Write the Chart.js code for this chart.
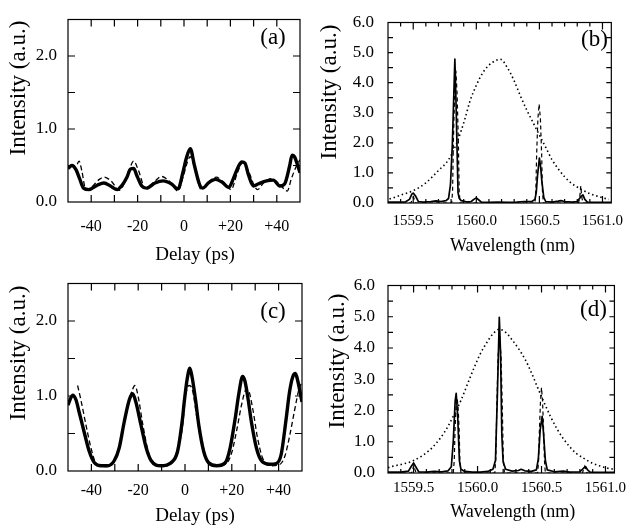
<!DOCTYPE html>
<html><head><meta charset="utf-8">
<script src="https://cdn.jsdelivr.net/npm/chart.js@4.4.0/dist/chart.umd.min.js"></script>
<style>
html,body{margin:0;padding:0;background:#fff;}
body{width:634px;height:528px;position:relative;overflow:hidden;}
canvas{position:absolute;}
</style></head><body>
<canvas id="ca" width="317" height="264" style="left:0;top:0"></canvas>
<canvas id="cb" width="317" height="264" style="left:317px;top:0"></canvas>
<canvas id="cc" width="317" height="264" style="left:0;top:264px"></canvas>
<canvas id="cd" width="317" height="264" style="left:317px;top:264px"></canvas>
<script>
// ---------- tick values and labels ----------
const delayTicks = [-50,-40,-30,-20,-10,0,10,20,30,40,50];
const delayLabelValues = [-40,-20,0,20,40];
const delayLabelTexts = ['-40','-20','0','+20','+40'];
const timeIntensityTicks = [0,0.5,1,1.5,2,2.5];
const timeIntensityLabelValues = [0,1,2];
const timeIntensityLabelTexts = ['0.0','1.0','2.0'];
const wlTicks = [1559.3,1559.4,1559.5,1559.6,1559.7,1559.8,1559.9,1560.0,1560.1,1560.2,1560.3,1560.4,1560.5,1560.6,1560.7,1560.8,1560.9,1561.0];
const wlLabelValues = [1559.5,1560.0,1560.5,1561.0];
const wlLabelTexts = ['1559.5','1560.0','1560.5','1561.0'];
const specIntensityTicks = [0,0.5,1,1.5,2,2.5,3,3.5,4,4.5,5,5.5,6];
const specIntensityLabelValues = [0,1,2,3,4,5,6];
const specIntensityLabelTexts = ['0.0','1.0','2.0','3.0','4.0','5.0','6.0'];

// ---------- (a) autocorrelation ----------
const aMeasDelay = [-50,-48.3,-46.5,-45,-43.3,-41,-37.4,-34.5,-31.7,-28.8,-26.7,-24.6,-23.1,-21.7,-20.3,-18.2,-16.1,-12.5,-9,-5.5,-2.6,-0.5,1,2.7,4.5,6.6,8,10.8,13.6,16.5,19.3,21.4,23.5,24.9,26.3,27.8,29.9,32.1,35.6,38.5,41.3,43.4,45.5,46.6,47.6,49.1,50];
const aMeasI = [0.46,0.50,0.44,0.32,0.19,0.17,0.23,0.26,0.22,0.17,0.23,0.34,0.45,0.46,0.36,0.22,0.19,0.26,0.29,0.25,0.18,0.40,0.60,0.73,0.50,0.25,0.19,0.27,0.31,0.27,0.20,0.33,0.49,0.55,0.53,0.37,0.22,0.25,0.29,0.30,0.22,0.25,0.49,0.64,0.62,0.49,0.40];
const aSimDelay = [-46,-45.2,-44,-42.3,-40.5,-38.7,-36.5,-34.5,-31.5,-27.8,-25.7,-23.5,-21.7,-19.6,-16.7,-13,-9.7,-6.5,-2.6,-0.5,1.5,2.7,4.5,7.4,10.5,13.9,17,20.3,23,25.3,27.5,31.7,34.5,37.4,41,44.5,46.3,48.4,50];
const aSimI = [0.52,0.56,0.42,0.17,0.19,0.24,0.31,0.34,0.29,0.16,0.26,0.45,0.56,0.43,0.19,0.27,0.35,0.29,0.15,0.33,0.55,0.62,0.48,0.17,0.27,0.34,0.27,0.17,0.40,0.54,0.44,0.17,0.27,0.32,0.25,0.15,0.32,0.49,0.58];

// ---------- (c) autocorrelation ----------
const cMeasDelay = [-50,-48,-46.6,-45.2,-43.1,-40.9,-38.7,-35.9,-33.1,-30.2,-28.1,-26,-23.8,-22.4,-21,-18.8,-16.6,-14.5,-10.2,-6,-3.2,-1.1,-0.4,1,2.1,3.1,4.5,5.9,8,10.1,13.6,17.2,19.3,21.4,23,24.6,25.6,27,28.4,30.5,32.6,36.2,39,41.1,43.2,44.7,46.1,47.2,48.2,50];
const cMeasI = [0.88,1.01,0.95,0.78,0.52,0.26,0.11,0.07,0.07,0.14,0.31,0.65,0.95,1.03,0.92,0.61,0.31,0.14,0.07,0.11,0.26,0.69,0.90,1.24,1.37,1.24,0.95,0.61,0.26,0.11,0.07,0.11,0.31,0.69,1.03,1.26,1.2,0.95,0.65,0.31,0.14,0.09,0.1,0.22,0.69,1.06,1.26,1.3,1.2,0.92];
const cSimDelay = [-45.9,-44.5,-42.3,-40.2,-38.1,-33.8,-31,-28.8,-26.7,-24.6,-22.4,-21.4,-20,-18.2,-16.1,-14,-9.7,-5.5,-3.4,-1.2,0.3,1.7,3.1,5.2,7.4,9.5,13.7,18,20.1,22.2,24.3,26.2,27.2,29,31,33.2,37,40.6,42.7,44.8,46.9,48.7,49.6];
const cSimI = [1.14,0.95,0.61,0.31,0.11,0.06,0.09,0.22,0.52,0.86,1.09,1.14,0.99,0.65,0.31,0.11,0.06,0.11,0.26,0.56,1.01,1.14,1.09,0.69,0.35,0.14,0.07,0.11,0.26,0.56,0.9,1.09,1.07,0.82,0.44,0.17,0.07,0.09,0.2,0.48,0.82,1.09,1.16];

// ---------- (b) spectrum ----------
const bMeasWl = [1559.30,1559.38,1559.44,1559.47,1559.49,1559.50,1559.52,1559.54,1559.58,1559.64,1559.68,1559.72,1559.76,1559.78,1559.795,1559.81,1559.83,1559.84,1559.855,1559.865,1559.88,1559.92,1559.96,1559.98,1560.00,1560.02,1560.04,1560.10,1560.17,1560.25,1560.32,1560.38,1560.44,1560.465,1560.475,1560.485,1560.50,1560.51,1560.52,1560.535,1560.55,1560.60,1560.65,1560.67,1560.70,1560.76,1560.80,1560.83,1560.845,1560.86,1560.88,1560.95,1561.07];
const bMeasI = [0.03,0.03,0.04,0.12,0.30,0.33,0.22,0.05,0.03,0.05,0.07,0.05,0.08,0.15,0.6,1.95,4.78,3.2,0.35,0.15,0.08,0.04,0.05,0.12,0.17,0.10,0.03,0.02,0.03,0.02,0.03,0.05,0.05,0.12,0.35,0.9,1.49,1.2,0.7,0.18,0.05,0.03,0.06,0.08,0.05,0.03,0.05,0.22,0.27,0.12,0.03,0.02,0.02];
const bSimWl = [1559.30,1559.48,1559.495,1559.502,1559.51,1559.52,1559.805,1559.812,1559.818,1559.828,1559.838,1559.848,1559.858,1559.864,1559.872,1560.465,1560.472,1560.478,1560.488,1560.498,1560.508,1560.518,1560.524,1560.532,1560.81,1560.82,1560.828,1560.836,1560.845,1561.07];
const bSimI = [0,0,0.12,0.2,0.1,0,0,0.4,2.0,3.6,4.4,3.6,2.0,0.4,0,0,0.4,1.6,2.8,3.29,2.8,1.6,0.4,0,0,0.2,0.56,0.2,0,0];
const bEnvWl = [1559.312,1559.40,1559.50,1559.60,1559.70,1559.78,1559.85,1559.91,1559.95,1560.00,1560.05,1560.10,1560.15,1560.19,1560.25,1560.30,1560.35,1560.40,1560.45,1560.50,1560.55,1560.60,1560.65,1560.70,1560.75,1560.83,1560.90,1560.98,1561.05];
const bEnvI = [0.13,0.26,0.41,0.67,1.08,1.44,2.05,2.8,3.39,3.91,4.32,4.58,4.73,4.78,4.47,4.06,3.55,3.09,2.67,2.26,1.85,1.44,1.13,0.87,0.67,0.46,0.31,0.20,0.12];

// ---------- (d) spectrum ----------
const dMeasWl = [1559.30,1559.40,1559.46,1559.48,1559.50,1559.52,1559.54,1559.60,1559.66,1559.72,1559.77,1559.795,1559.81,1559.825,1559.833,1559.845,1559.858,1559.87,1559.90,1559.96,1560.02,1560.08,1560.12,1560.14,1560.155,1560.17,1560.18,1560.19,1560.20,1560.22,1560.27,1560.32,1560.34,1560.37,1560.42,1560.46,1560.475,1560.49,1560.505,1560.515,1560.53,1560.545,1560.60,1560.67,1560.72,1560.80,1560.83,1560.845,1560.86,1560.88,1561.07];
const dMeasI = [0.03,0.03,0.06,0.2,0.32,0.18,0.04,0.03,0.05,0.04,0.07,0.2,1.0,2.3,2.55,1.8,0.4,0.12,0.05,0.03,0.03,0.05,0.12,0.4,2.5,4.98,3.8,1.2,0.35,0.12,0.06,0.08,0.12,0.07,0.05,0.1,0.45,1.4,1.81,1.3,0.4,0.1,0.04,0.06,0.03,0.04,0.16,0.2,0.1,0.03,0.02];
const dSimWl = [1559.30,1559.485,1559.495,1559.502,1559.51,1559.52,1559.81,1559.818,1559.824,1559.832,1559.84,1559.848,1559.856,1559.862,1559.87,1560.135,1560.143,1560.15,1560.16,1560.172,1560.184,1560.194,1560.201,1560.21,1560.47,1560.477,1560.483,1560.492,1560.50,1560.508,1560.517,1560.523,1560.53,1560.82,1560.83,1560.838,1560.846,1560.855,1561.07];
const dSimI = [0,0,0.15,0.25,0.12,0,0,0.4,1.4,2.1,2.4,2.1,1.4,0.4,0,0,0.5,2.0,3.7,4.4,3.7,2.0,0.5,0,0,0.4,1.3,2.3,2.73,2.3,1.3,0.4,0,0,0.15,0.22,0.1,0,0];
const dEnvWl = [1559.30,1559.34,1559.42,1559.49,1559.57,1559.64,1559.71,1559.77,1559.82,1559.87,1559.92,1559.97,1560.02,1560.07,1560.12,1560.17,1560.22,1560.27,1560.32,1560.37,1560.42,1560.47,1560.52,1560.57,1560.62,1560.67,1560.72,1560.77,1560.83,1560.89,1560.96,1561.02,1561.07];
const dEnvI = [0.17,0.22,0.29,0.38,0.56,0.79,1.12,1.5,1.9,2.32,2.83,3.34,3.8,4.16,4.45,4.6,4.5,4.26,3.98,3.65,3.22,2.73,2.26,1.81,1.42,1.1,0.84,0.63,0.47,0.33,0.22,0.15,0.12];

// ---------- helpers ----------
const zip = (xs, ys) => xs.map((x, i) => ({x: x, y: ys[i]}));
const labelFor = (vals, texts) => (value) => {
  const i = vals.findIndex(v => Math.abs(v - value) < 1e-6);
  return i >= 0 ? texts[i] : '';
};
const FONT = "'Liberation Serif','Times New Roman',serif";
Chart.defaults.font.family = FONT;
Chart.defaults.color = '#000';

const framePlugin = {
  id: 'frame',
  afterDraw(chart, args, o) {
    const {ctx, chartArea: a} = chart;
    const xs = chart.scales.x, ys = chart.scales.y;
    ctx.save();
    ctx.strokeStyle = '#000';
    ctx.lineWidth = 1.2;
    ctx.beginPath();
    xs.ticks.forEach(t => {
      const p = xs.getPixelForValue(t.value);
      if (p < a.left + 1 || p > a.right - 1) return;
      const len = o.xMajor.some(v => Math.abs(v - t.value) < 1e-6) ? o.xMajorLen : o.xMinorLen;
      ctx.moveTo(p, a.bottom); ctx.lineTo(p, a.bottom - len);
      ctx.moveTo(p, a.top); ctx.lineTo(p, a.top + len);
    });
    ys.ticks.forEach(t => {
      const p = ys.getPixelForValue(t.value);
      if (p < a.top + 1 || p > a.bottom - 1) return;
      ctx.moveTo(a.left, p); ctx.lineTo(a.left + o.yLen, p);
      ctx.moveTo(a.right, p); ctx.lineTo(a.right - o.yLen, p);
    });
    ctx.stroke();
    ctx.strokeRect(a.left, a.top, a.right - a.left, a.bottom - a.top);
    ctx.fillStyle = '#000';
    ctx.textAlign = 'center';
    ctx.textBaseline = 'middle';
    ctx.font = '23px ' + FONT;
    ctx.fillText(o.panel, o.panelX, o.panelY);
    ctx.font = o.xTitleSize + 'px ' + FONT;
    ctx.fillText(o.xTitle, o.xTitleX, o.xTitleY);
    ctx.translate(o.yTitleX, o.yTitleY);
    ctx.rotate(-Math.PI / 2);
    ctx.font = '23px ' + FONT;
    ctx.fillText(o.yTitle, 0, 0);
    ctx.restore();
  }
};

function makePanel(id, p) {
  new Chart(document.getElementById(id), {
    type: 'scatter',
    data: {datasets: p.datasets},
    options: {
      responsive: false, animation: false, devicePixelRatio: 1, events: [],
      layout: {padding: {left: 0, top: p.T, right: 317 - p.R, bottom: 0}},
      plugins: {
        legend: {display: false}, tooltip: {enabled: false},
        frame: p.frame
      },
      elements: {point: {radius: 0}},
      scales: {
        x: {
          type: 'linear', min: p.xMin, max: p.xMax,
          grid: {display: false, drawTicks: false}, border: {display: false},
          ticks: {autoSkip: false, maxRotation: 0, minRotation: 0, padding: p.xPad,
                  font: {size: p.xFont, lineHeight: 1}, color: '#000',
                  callback: labelFor(p.xLabelVals, p.xLabelTexts)},
          afterBuildTicks: s => { s.ticks = p.xTicks.map(v => ({value: v})); },
          afterFit: s => { s.height = 264 - p.B; }
        },
        y: {
          type: 'linear', min: 0, max: p.yMax,
          grid: {display: false, drawTicks: false}, border: {display: false},
          ticks: {autoSkip: false, padding: p.yPad,
                  font: {size: 17, lineHeight: 1}, color: '#000',
                  callback: labelFor(p.yLabelVals, p.yLabelTexts)},
          afterBuildTicks: s => { s.ticks = p.yTicks.map(v => ({value: v})); },
          afterFit: s => { s.width = p.L; }
        }
      }
    },
    plugins: [framePlugin]
  });
}

const timeSolid = (xs, ys) => ({data: zip(xs, ys), showLine: true, borderColor: '#000', borderWidth: 3.4,
  cubicInterpolationMode: 'monotone', tension: 0.4, borderJoinStyle: 'round', pointRadius: 0});
const timeDashed = (xs, ys) => ({data: zip(xs, ys), showLine: true, borderColor: '#000', borderWidth: 1.3,
  borderDash: [5, 3], cubicInterpolationMode: 'monotone', tension: 0.4, pointRadius: 0});
const specSolid = (xs, ys) => ({data: zip(xs, ys), showLine: true, borderColor: '#000', borderWidth: 1.7,
  tension: 0, borderJoinStyle: 'round', pointRadius: 0});
const specDashed = (xs, ys) => ({data: zip(xs, ys), showLine: true, borderColor: '#000', borderWidth: 1.2,
  borderDash: [4, 3], tension: 0, pointRadius: 0});
const specDotted = (xs, ys) => ({data: zip(xs, ys), showLine: true, borderColor: '#000', borderWidth: 1.6,
  borderDash: [1.5, 2.8], cubicInterpolationMode: 'monotone', tension: 0.4, pointRadius: 0});

const timeCommon = {xMin: -50, xMax: 50, xTicks: delayTicks, xLabelVals: delayLabelValues, xLabelTexts: delayLabelTexts,
  yMax: 2.5, yTicks: timeIntensityTicks, yLabelVals: timeIntensityLabelValues, yLabelTexts: timeIntensityLabelTexts, xFont: 16};
const specCommon = {xMin: 1559.3, xMax: 1561.07, xTicks: wlTicks, xLabelVals: wlLabelValues, xLabelTexts: wlLabelTexts,
  yMax: 6, yTicks: specIntensityTicks, yLabelVals: specIntensityLabelValues, yLabelTexts: specIntensityLabelTexts, xFont: 15};

makePanel('ca', Object.assign({}, timeCommon, {
  L: 68, T: 6, R: 302, B: 202, xPad: 17, yPad: 11,
  datasets: [timeDashed(aSimDelay, aSimI), timeSolid(aMeasDelay, aMeasI)],
  frame: {panel: '(a)', panelX: 273, panelY: 38, xTitle: 'Delay (ps)', xTitleSize: 19, xTitleX: 195, xTitleY: 255,
          yTitle: 'Intensity (a.u.)', yTitleX: 18.5, yTitleY: 88, xMajor: delayTicks, xMajorLen: 7, xMinorLen: 7, yLen: 7}
}));
makePanel('cb', Object.assign({}, specCommon, {
  L: 71, T: 9, R: 307, B: 203, xPad: 10.5, yPad: 14,
  datasets: [specDotted(bEnvWl, bEnvI), specDashed(bSimWl, bSimI), specSolid(bMeasWl, bMeasI)],
  frame: {panel: '(b)', panelX: 277.5, panelY: 40, xTitle: 'Wavelength (nm)', xTitleSize: 18, xTitleX: 195.5, xTitleY: 246,
          yTitle: 'Intensity (a.u.)', yTitleX: 12.5, yTitleY: 92, xMajor: wlLabelValues, xMajorLen: 7, xMinorLen: 4, yLen: 5}
}));
makePanel('cc', Object.assign({}, timeCommon, {
  L: 68, T: 11, R: 302, B: 207, xPad: 12, yPad: 11,
  datasets: [timeDashed(cSimDelay, cSimI), timeSolid(cMeasDelay, cMeasI)],
  frame: {panel: '(c)', panelX: 273, panelY: 47.5, xTitle: 'Delay (ps)', xTitleSize: 19, xTitleX: 195, xTitleY: 252.5,
          yTitle: 'Intensity (a.u.)', yTitleX: 19, yTitleY: 89, xMajor: delayTicks, xMajorLen: 7, xMinorLen: 7, yLen: 7}
}));
makePanel('cd', Object.assign({}, specCommon, {
  L: 71, T: 13, R: 307, B: 209, xPad: 7.5, yPad: 13,
  datasets: [specDotted(dEnvWl, dEnvI), specDashed(dSimWl, dSimI), specSolid(dMeasWl, dMeasI)],
  frame: {panel: '(d)', panelX: 276.5, panelY: 46, xTitle: 'Wavelength (nm)', xTitleSize: 18, xTitleX: 195.8, xTitleY: 248,
          yTitle: 'Intensity (a.u.)', yTitleX: 20.8, yTitleY: 97, xMajor: wlLabelValues, xMajorLen: 7, xMinorLen: 4, yLen: 5}
}));
</script>
</body></html>
